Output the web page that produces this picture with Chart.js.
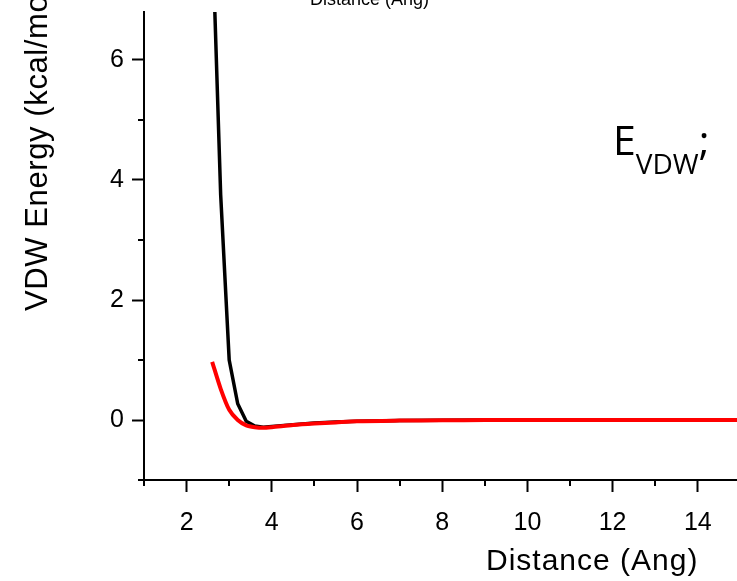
<!DOCTYPE html>
<html>
<head>
<meta charset="utf-8">
<title>VDW Energy vs Distance</title>
<script src="https://cdn.jsdelivr.net/npm/chart.js@4/dist/chart.umd.min.js"></script>
<style>
  html, body { margin: 0; padding: 0; background: #fff; overflow: hidden; }
  #wrap { position: relative; width: 737px; height: 581px; overflow: hidden; }
  #plot { position: absolute; left: 0; top: 0; }
  .label { position: absolute; white-space: nowrap; color: #000; font-family: "Liberation Sans", Arial, sans-serif; }
  #top-title { left: 310px; top: -10px; font-size: 18px; line-height: 18px; }
  #x-title { left: 486px; top: 545px; font-size: 30px; line-height: 30px; letter-spacing: 1px; }
  #y-title { left: 21px; top: 311px; font-size: 31px; line-height: 31px; letter-spacing: 0.6px;
             transform-origin: left top; transform: rotate(-90deg); }
  #evdw { left: 613px; top: 119px; font-family: "Open Sans", "Noto Sans", sans-serif; font-size: 41px; line-height: 40px; }
  #evdw sub { font-size: 28px; line-height: 1; vertical-align: -19px; }
</style>
</head>
<body>
<div id="wrap">
  <canvas id="plot" width="737" height="581"></canvas>
  <div class="label" id="top-title">Distance (Ang)</div>
  <div class="label" id="y-title">VDW Energy (kcal/mol)</div>
  <div class="label" id="x-title">Distance (Ang)</div>
  <div class="label" id="evdw">E<sub>VDW</sub>;</div>
</div>
<script>
// Pair distance (Ang) and the two VDW energy curves (kcal/mol)
const distance = [2.6, 2.8, 3.0, 3.2, 3.4, 3.6, 3.8, 4.0, 4.5, 5.0, 5.5, 6.0, 7.0, 8.0, 9.0, 10.0, 11.0, 12.0, 13.0, 14.0, 15.0];
const vdwHard  = [8.2, 3.75, 1.0, 0.27, -0.02, -0.10, -0.12, -0.11, -0.08, -0.05, -0.035, -0.02, -0.01, -0.005, 0, 0, 0, 0, 0, 0, 0];
const vdwSoft  = [0.97, 0.52, 0.17, 0.0, -0.09, -0.12, -0.13, -0.12, -0.085, -0.06, -0.04, -0.02, -0.01, -0.005, 0, 0, 0, 0, 0, 0, 0];

const xRange = [1, 14.92];
const yRange = [-1, 6.8];

const FONT = { family: '"Liberation Sans", Arial, sans-serif', size: 25 };

function toPoints(ys) {
  return distance.map((x, i) => ({ x, y: ys[i] }));
}

// labels on even values only, odd values get the short minor ticks
const evenLabel = (v) => (v % 2 === 0 ? String(v) : '');
const majorOnly = (ctx) => (ctx.tick && ctx.tick.value % 2 === 0 ? '#000' : 'rgba(0,0,0,0)');

const minorTicks = {
  id: 'minorTicks',
  afterDraw(chart) {
    const { ctx, chartArea, scales } = chart;
    ctx.save();
    ctx.strokeStyle = '#000';
    ctx.lineWidth = 2;
    ctx.beginPath();
    for (const t of scales.x.ticks) {
      if (t.value % 2 === 0) continue;
      const px = Math.round(scales.x.getPixelForValue(t.value));
      ctx.moveTo(px, chartArea.bottom);
      ctx.lineTo(px, chartArea.bottom + 6);
    }
    for (const t of scales.y.ticks) {
      if (t.value % 2 === 0) continue;
      const py = Math.round(scales.y.getPixelForValue(t.value));
      ctx.moveTo(chartArea.left, py);
      ctx.lineTo(chartArea.left - 6, py);
    }
    ctx.stroke();
    ctx.restore();
  },
};

new Chart(document.getElementById('plot'), {
  type: 'line',
  data: {
    datasets: [
      {
        label: 'soft',
        data: toPoints(vdwSoft),
        borderColor: '#ff0000',
        borderWidth: 4,
        pointRadius: 0,
        tension: 0.25,
        order: 0,
      },
      {
        label: 'hard',
        data: toPoints(vdwHard),
        borderColor: '#000000',
        borderWidth: 3.5,
        pointRadius: 0,
        tension: 0,
        order: 1,
      },
    ],
  },
  options: {
    responsive: false,
    animation: false,
    layout: { padding: { top: 12, right: 0, left: 0, bottom: 0 } },
    plugins: { legend: { display: false }, tooltip: { enabled: false } },
    scales: {
      x: {
        type: 'linear',
        min: xRange[0],
        max: xRange[1],
        afterFit: (scale) => {
          scale.height = 101;
          scale.paddingLeft = 0;
          scale.paddingRight = 0;
        },
        border: { display: true, color: '#000', width: 2 },
        grid: { drawOnChartArea: false, drawTicks: true, tickLength: 12, tickWidth: 2, tickColor: majorOnly },
        ticks: { stepSize: 1, includeBounds: false, autoSkip: false, maxRotation: 0, padding: 16, color: '#000', font: FONT, callback: evenLabel },
      },
      y: {
        type: 'linear',
        min: yRange[0],
        max: yRange[1],
        afterFit: (scale) => {
          scale.width = 144;
          scale.paddingTop = 0;
          scale.paddingBottom = 0;
        },
        border: { display: true, color: '#000', width: 2 },
        grid: { drawOnChartArea: false, drawTicks: true, tickLength: 12, tickWidth: 2, tickColor: majorOnly },
        ticks: { stepSize: 1, includeBounds: false, autoSkip: false, padding: 8, color: '#000', font: FONT, callback: evenLabel },
      },
    },
  },
  plugins: [minorTicks],
});
</script>
</body>
</html>
